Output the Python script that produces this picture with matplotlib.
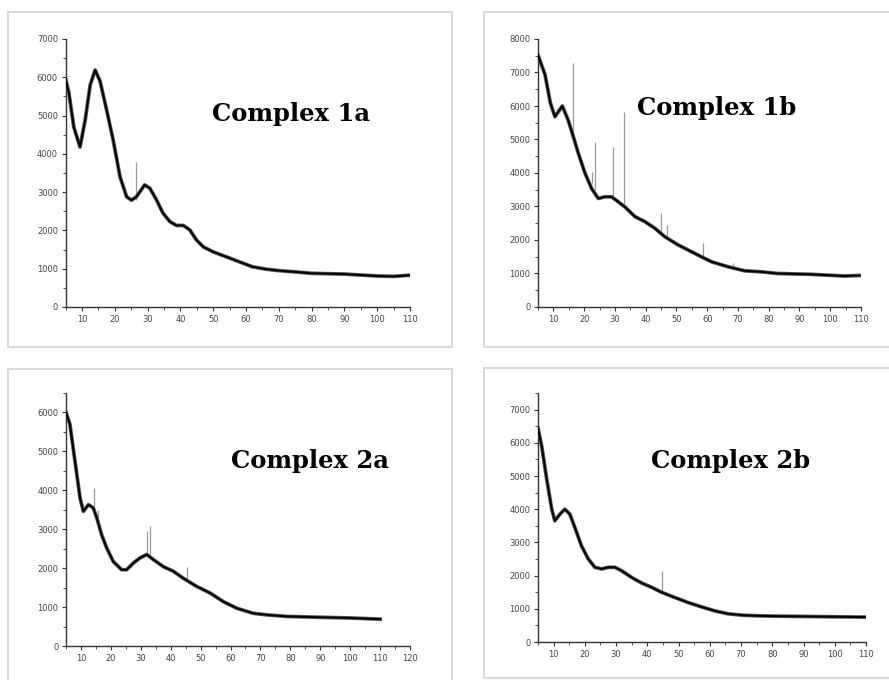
import matplotlib
matplotlib.use("Agg")
import matplotlib.pyplot as plt
from matplotlib.patches import Rectangle
from matplotlib.ticker import MultipleLocator


# Complex 1a
x_1a = [5, 6, 7.5, 9.4, 11, 12.5, 14, 15.5, 17.5, 19.5, 21.6, 23.6, 25.1, 26.6, 29.1, 30.7,
        32.7, 34.7, 36.8, 38.8, 40.9, 42.9, 44.9, 47, 50, 54, 58, 62, 66, 70, 76, 80, 90, 100, 105, 110]
y_1a = [5950, 5600, 4700, 4180, 4900, 5800, 6190, 5900, 5150, 4360, 3400, 2880, 2790, 2880, 3190, 3100,
        2800, 2450, 2230, 2130, 2130, 2010, 1750, 1570, 1440, 1310, 1180, 1050, 990, 950, 910, 880, 860, 810, 800, 830]
spike_x_1a = [26.5]
spike_lo_1a = [2800]
spike_hi_1a = [3800]

# Complex 1b
x_1b = [5, 7.3, 9, 10.5, 12.9, 14.8, 16.5, 18.1, 20.3, 22.4, 24.6, 26.8, 28.9, 31.1, 33.2, 36.5,
        39.7, 43, 46.2, 50.6, 54.9, 58.1, 61.4, 66.8, 72.2, 77.6, 83, 93.7, 104.7, 109.5]
y_1b = [7520, 6930, 6100, 5680, 6000, 5580, 5080, 4590, 3990, 3540, 3240, 3290, 3290, 3140, 2990, 2700,
        2550, 2350, 2100, 1850, 1650, 1500, 1350, 1200, 1080, 1050, 1000, 975, 925, 940]
spike_x_1b = [16.5, 22.5, 23.5, 29.3, 33, 45, 47, 58.5, 68.5]
spike_lo_1b = [5100, 3700, 3500, 3290, 3050, 2200, 2100, 1500, 1150]
spike_hi_1b = [7270, 4040, 4930, 4780, 5830, 2800, 2450, 1900, 1310]

# Complex 2a
x_2a = [5, 6.3, 8, 9.7, 10.8, 12.5, 14.1, 15.3, 16.9, 18.6, 20.8, 23.6, 25.3, 27.5, 29.7, 32, 34.2,
        37.5, 40.9, 44.2, 48.7, 53.2, 57.6, 62.1, 67.6, 72.1, 78.8, 88.8, 100, 110]
y_2a = [6000, 5700, 4750, 3800, 3460, 3630, 3550, 3290, 2860, 2520, 2170, 1960, 1960, 2130, 2260, 2350, 2220,
        2040, 1920, 1740, 1530, 1360, 1140, 970, 840, 800, 760, 740, 720, 690]
spike_x_2a = [14.2, 15.6, 32, 33, 45.5]
spike_lo_2a = [3550, 3300, 2350, 2300, 1720]
spike_hi_2a = [4060, 3500, 2950, 3080, 2040]

# Complex 2b
x_2b = [5, 6.2, 7.8, 9.4, 10.4, 12, 13.6, 15.2, 16.8, 18.9, 21.1, 23.2, 25.4, 27.5, 29.6, 31.7, 34.9,
        38.1, 41.3, 44.5, 48.8, 53, 57.3, 61.5, 65.8, 70, 75, 80, 90, 100, 110]
y_2b = [6440, 5890, 4900, 4000, 3650, 3850, 4000, 3850, 3450, 2900, 2500, 2250, 2200, 2250, 2250, 2150, 1950,
        1780, 1650, 1500, 1340, 1190, 1060, 940, 850, 810, 790, 780, 770, 760, 750]
spike_x_2b = [44.6]
spike_lo_2b = [1500]
spike_hi_2b = [2150]

titles = ["Complex 1a", "Complex 1b", "Complex 2a", "Complex 2b"]

W, H = 889, 680

# pixel boxes (left, top, right, bottom) for frames and axes
frames = [(8, 12, 452, 347), (484, 12, 895, 347), (8, 369, 452, 684), (484, 368, 895, 678)]
axboxes = [(65.6, 39, 410, 307), (538, 39, 861, 307), (66, 393, 410, 646), (538, 393, 866, 642)]
xlims = [(5, 110), (5, 110), (5, 120), (5, 110)]
ylims = [(0, 7000), (0, 8000), (0, 6500), (0, 7500)]
title_pos = [(291, 121), (717, 115), (310, 468), (731, 468)]

series = [
    (x_1a, y_1a, spike_x_1a, spike_lo_1a, spike_hi_1a),
    (x_1b, y_1b, spike_x_1b, spike_lo_1b, spike_hi_1b),
    (x_2a, y_2a, spike_x_2a, spike_lo_2a, spike_hi_2a),
    (x_2b, y_2b, spike_x_2b, spike_lo_2b, spike_hi_2b),
]

fig = plt.figure(figsize=(W / 100, H / 100), dpi=100)
fig.patch.set_facecolor("white")

for fr in frames:
    l, t, r, b = fr
    fig.patches.append(Rectangle((l / W, 1 - b / H), (r - l) / W, (b - t) / H,
                                 transform=fig.transFigure, fill=False,
                                 edgecolor="#d9d9d9", linewidth=1.5))

for i in range(4):
    l, t, r, b = axboxes[i]
    ax = fig.add_axes([l / W, 1 - b / H, (r - l) / W, (b - t) / H])
    xs, ys, sx, slo, shi = series[i]

    ax.vlines(sx, slo, shi, color="#9a9a9a", linewidth=0.9, zorder=1)
    ax.plot(xs, ys, color="#555555", linewidth=2.7, solid_joinstyle="round", zorder=2)
    ax.plot(xs, ys, color="black", linewidth=1.4, solid_joinstyle="round", zorder=3)

    ax.set_xlim(*xlims[i])
    ax.set_ylim(*ylims[i])
    ax.xaxis.set_major_locator(MultipleLocator(10))
    ax.xaxis.set_minor_locator(MultipleLocator(5))
    ax.yaxis.set_major_locator(MultipleLocator(1000))
    ax.yaxis.set_minor_locator(MultipleLocator(500))
    ax.set_xticks([v for v in range(10, int(xlims[i][1]) + 1, 10)])

    for s in ["top", "right"]:
        ax.spines[s].set_visible(False)
    for s in ["left", "bottom"]:
        ax.spines[s].set_color("#333333")
        ax.spines[s].set_linewidth(1.0)
    ax.tick_params(which="major", direction="out", length=3, width=0.8, color="#333333",
                   labelsize=6, labelcolor="#444444", pad=2.5)
    ax.tick_params(which="minor", direction="out", length=2, width=0.6, color="#333333")
    ax.patch.set_alpha(0)

    tx, ty = title_pos[i]
    fig.text(tx / W, 1 - ty / H, titles[i], ha="center", va="baseline",
             family="DejaVu Serif", fontweight="bold", fontsize=17.5)

fig.savefig("out.png", dpi=100)
